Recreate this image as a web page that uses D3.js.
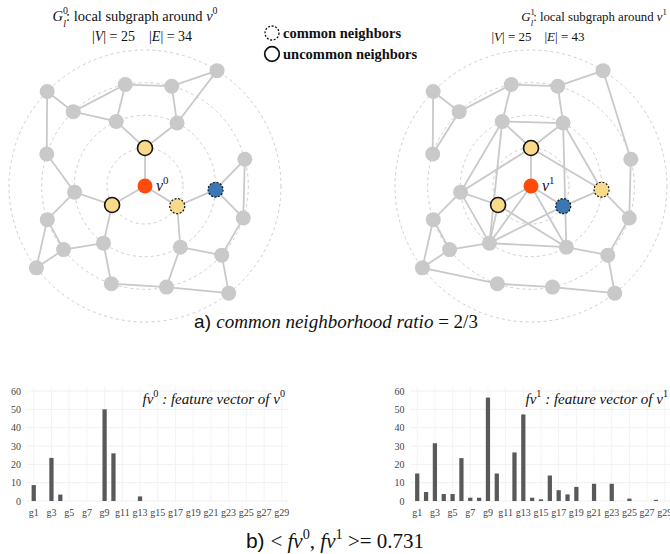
<!DOCTYPE html>
<html>
<head>
<meta charset="utf-8">
<script src="https://cdn.jsdelivr.net/npm/d3@7"></script>
<style>
  html, body { margin: 0; padding: 0; background: #fff; }
  svg { display: block; }
  text { white-space: pre; }
</style>
</head>
<body>
<svg id="fig" width="670" height="554"></svg>
<script>
// ---------- Local subgraph: shared node layout ----------
// each node sits on a hop ring around the root node (11) at an angle (deg, counter-clockwise from east)
const nodeIds    = [1, 2, 3, 4, 5, 6, 7, 8, 9, 10, 11, 12, 13, 14, 15, 16, 17, 18, 19, 20, 21, 22, 23, 24, 25];
const nodeRings  = [4, 3, 3, 4, 3, 2, 2, 1, 3, 3, 0, 2, 2, 1, 1, 3, 3, 2, 3, 2, 3, 4, 3, 3, 4];
const nodeAngles = [136, 101, 75, 58, 134, 114, 63, 90, 162, 15, 0, 185, -3, 210, -32, 199, -18, 234, 218, -60, -42, 217, 251, -78, -52];
const guideRings = [1, 2, 3, 4];

// edges of G_l^0 (|E| = 34) and G_l^1 (|E| = 43)
const edgesG0 = [[1,5],[1,9],[5,2],[5,6],[2,6],[2,3],[3,4],[3,7],[4,7],[6,8],[7,8],[8,11],[9,12],[12,14],[14,11],
  [14,18],[12,16],[16,19],[16,22],[19,22],[19,18],[18,23],[23,24],[11,15],[15,13],[13,10],[13,17],[10,17],[15,20],
  [20,21],[17,21],[20,24],[21,25],[24,25]];
const edgesG1 = [[1,5],[1,9],[5,2],[5,9],[2,3],[2,6],[3,4],[3,7],[4,10],[6,7],[6,8],[6,12],[6,18],[7,8],[7,13],
  [7,20],[8,11],[8,12],[8,13],[10,17],[11,14],[11,15],[11,18],[11,20],[12,14],[12,16],[12,18],[14,18],[14,20],
  [15,13],[15,18],[13,17],[17,21],[16,22],[16,19],[19,22],[19,18],[18,20],[20,21],[21,25],[22,23],[23,24],[24,25]];

// node roles per subgraph
const rootG0 = 11, uncommonG0 = [8, 14], commonYellowG0 = [15], commonBlueG0 = [13];
const rootG1 = 11, uncommonG1 = [8, 14], commonYellowG1 = [13], commonBlueG1 = [15];

// ---------- Feature vectors ----------
const categories = ['g1','g2','g3','g4','g5','g6','g7','g8','g9','g10','g11','g12','g13','g14','g15',
  'g16','g17','g18','g19','g20','g21','g22','g23','g24','g25','g26','g27','g28','g29'];
const tickCats = ['g1','g3','g5','g7','g9','g11','g13','g15','g17','g19','g21','g23','g25','g27','g29'];
const yTicks = [0, 10, 20, 30, 40, 50, 60];
const fv0 = [8.7, 0, 23.5, 3.5, 0, 0, 0, 0, 50, 26, 0, 0, 2.5, 0, 0, 0, 0, 0, 0, 0, 0, 0, 0, 0, 0, 0, 0, 0, 0];
const fv1 = [15, 4.9, 31.5, 3.8, 3.8, 23.4, 1.8, 1.8, 56.4, 15, 0, 26.5, 47.2, 1.8, 0.9, 13.9, 5.9, 3.6, 7.7, 0,
  9.4, 0, 9.4, 0, 1.3, 0, 0, 0.6, 0];

// ---------- Styling ----------
const SERIF = 'Liberation Serif';
const SANS = 'Liberation Sans';
const GREY = '#c9c9c9', YELLOW = '#f9d98a', RED = '#fd4b0b', BLUE = '#3b76b5';

const svg = d3.select('#fig');

// Rich text with italic / superscript / subscript runs
function rich(sel, x, y, segs, opt) {
  const size = opt.size;
  const t = sel.append('text')
    .attr('x', x).attr('y', y)
    .attr('font-size', size)
    .style('font-family', opt.family || SERIF)
    .attr('text-anchor', opt.anchor || 'start')
    .attr('fill', '#111');
  let shift = 0;
  segs.forEach(s => {
    const target = s.sup ? -0.45 * size : s.sub ? 0.38 * size : 0;
    const ts = t.append('tspan').text(s.t).attr('dy', target - shift);
    shift = target;
    if (s.sup || s.sub) ts.attr('font-size', size * 0.68);
    if (s.i) ts.style('font-style', 'italic');
    if (s.b) ts.style('font-weight', 'bold');
    if (s.f) ts.style('font-family', s.f);
    if (s.dx) ts.attr('dx', s.dx);
  });
  return t;
}

// ---------- Subgraph panel ----------
const ringRadius = d3.scaleLinear().domain([0, 1, 4]).range([0, 38, 136]);

function drawGraph(cx, cy, edges, root, uncommon, commonYellow, commonBlue, rootLabel) {
  const g = svg.append('g').attr('transform', `translate(${cx},${cy})`);
  const pos = new Map();
  nodeIds.forEach((id, i) => {
    const r = ringRadius(nodeRings[i]);
    const a = nodeAngles[i] * Math.PI / 180;
    pos.set(id, [r * Math.cos(a), -r * Math.sin(a)]);
  });

  g.selectAll('circle.guide').data(guideRings).join('circle')
    .attr('class', 'guide')
    .attr('r', d => ringRadius(d))
    .attr('fill', 'none')
    .attr('stroke', '#cfcfcf')
    .attr('stroke-width', 1)
    .attr('stroke-dasharray', '3,3');

  g.selectAll('line.edge').data(edges).join('line')
    .attr('class', 'edge')
    .attr('x1', d => pos.get(d[0])[0]).attr('y1', d => pos.get(d[0])[1])
    .attr('x2', d => pos.get(d[1])[0]).attr('y2', d => pos.get(d[1])[1])
    .attr('stroke', GREY)
    .attr('stroke-width', 1.8);

  const role = id => id === root ? 'root'
    : uncommon.includes(id) ? 'uncommon'
    : commonYellow.includes(id) ? 'cy'
    : commonBlue.includes(id) ? 'cb' : 'plain';

  g.selectAll('circle.node').data(nodeIds).join('circle')
    .attr('class', 'node')
    .attr('cx', d => pos.get(d)[0]).attr('cy', d => pos.get(d)[1])
    .attr('r', 7.5)
    .attr('fill', d => ({ root: RED, uncommon: YELLOW, cy: YELLOW, cb: BLUE, plain: GREY })[role(d)])
    .attr('stroke', d => role(d) === 'root' || role(d) === 'plain' ? 'none' : '#111')
    .attr('stroke-width', d => role(d) === 'uncommon' ? 1.6 : 1.2)
    .attr('stroke-dasharray', d => (role(d) === 'cy' || role(d) === 'cb') ? '2,1.6' : null);

  const p = pos.get(root);
  rich(g, p[0] + 11, p[1] + 5, [{ t: 'v', i: 1 }, { t: rootLabel, sup: 1 }], { size: 16 });
}

drawGraph(145, 186, edgesG0, rootG0, uncommonG0, commonYellowG0, commonBlueG0, '0');
drawGraph(531, 186, edgesG1, rootG1, uncommonG1, commonYellowG1, commonBlueG1, '1');

// Panel titles
rich(svg, 135, 21, [{ t: 'G', i: 1 }, { t: '0', sup: 1 }, { t: 'l', sub: 1, i: 1, dx: -4.6 },
  { t: ': local subgraph around ' }, { t: 'v', i: 1 }, { t: '0', sup: 1 }], { size: 14.5, anchor: 'middle' });
rich(svg, 142, 41, [{ t: '|' }, { t: 'V', i: 1 }, { t: '| = 25    |' }, { t: 'E', i: 1 }, { t: '| = 34' }],
  { size: 14, anchor: 'middle' });
rich(svg, 594, 21, [{ t: 'G', i: 1 }, { t: '1', sup: 1 }, { t: 'l', sub: 1, i: 1, dx: -4 },
  { t: ': local subgraph around ' }, { t: 'v', i: 1 }, { t: '1', sup: 1 }], { size: 12.8, anchor: 'middle' });
rich(svg, 538, 41, [{ t: '|' }, { t: 'V', i: 1 }, { t: '| = 25    |' }, { t: 'E', i: 1 }, { t: '| = 43' }],
  { size: 13, anchor: 'middle' });

// Legend
const legend = svg.append('g');
legend.append('circle').attr('cx', 272).attr('cy', 33).attr('r', 7)
  .attr('fill', '#fff').attr('stroke', '#111').attr('stroke-width', 1.3).attr('stroke-dasharray', '2,1.6');
legend.append('circle').attr('cx', 272).attr('cy', 54).attr('r', 7.3)
  .attr('fill', '#fff').attr('stroke', '#111').attr('stroke-width', 1.7);
legend.append('text').attr('x', 283).attr('y', 38).text('common neighbors')
  .style('font-family', SERIF).style('font-weight', 'bold').attr('font-size', 14.5).attr('fill', '#111');
legend.append('text').attr('x', 283).attr('y', 59).text('uncommon neighbors')
  .style('font-family', SERIF).style('font-weight', 'bold').attr('font-size', 14.5).attr('fill', '#111');

// Caption a)
rich(svg, 336, 328, [{ t: 'a) ', f: SANS }, { t: 'common neighborhood ratio', i: 1 }, { t: ' = 2/3' }],
  { size: 19, anchor: 'middle' });

// ---------- Feature-vector bar charts ----------
const y = d3.scaleLinear().domain([0, 60]).range([501, 391]);

function drawBars(values, x0, x1, label) {
  const x = d3.scaleBand().domain(categories).range([x0, x1]).padding(0.52);
  const g = svg.append('g');

  // light grid
  g.selectAll('line.hg').data(yTicks).join('line')
    .attr('x1', x0).attr('x2', x1)
    .attr('y1', d => y(d)).attr('y2', d => y(d))
    .attr('stroke', '#f0f0f0').attr('stroke-width', 1);
  g.selectAll('line.vg').data(tickCats).join('line')
    .attr('x1', d => x(d) + x.bandwidth() / 2).attr('x2', d => x(d) + x.bandwidth() / 2)
    .attr('y1', y(0)).attr('y2', y(60) - 4)
    .attr('stroke', '#f3f3f3').attr('stroke-width', 1);

  g.selectAll('rect.bar').data(values).join('rect')
    .attr('class', 'bar')
    .attr('x', (d, i) => x(categories[i]))
    .attr('width', x.bandwidth())
    .attr('y', d => y(d))
    .attr('height', d => y(0) - y(d))
    .attr('fill', '#595959');

  const ya = g.append('g').attr('transform', `translate(${x0},0)`)
    .call(d3.axisLeft(y).tickValues(yTicks).tickSize(0).tickPadding(6));
  const xa = g.append('g').attr('transform', `translate(0,${y(0)})`)
    .call(d3.axisBottom(x).tickValues(tickCats).tickSize(0).tickPadding(8));
  [ya, xa].forEach(a => {
    a.select('.domain').remove();
    a.selectAll('text').style('font-family', SERIF).attr('font-size', 10).attr('fill', '#444');
  });

  rich(g, x1 - 146, 404,
    [{ t: 'fv', i: 1 }, { t: label, sup: 1 }, { t: ' : feature vector of ', i: 1 }, { t: 'v', i: 1 }, { t: label, sup: 1 }],
    { size: 15 });
}

drawBars(fv0, 27, 288.5, '0');
drawBars(fv1, 410.5, 671.5, '1');

// Caption b)
rich(svg, 335, 548, [{ t: 'b) ', f: SANS }, { t: '< ' }, { t: 'fv', i: 1 }, { t: '0', sup: 1 }, { t: ', ' },
  { t: 'fv', i: 1 }, { t: '1', sup: 1 }, { t: ' >= 0.731' }], { size: 21, anchor: 'middle' });
</script>
</body>
</html>
